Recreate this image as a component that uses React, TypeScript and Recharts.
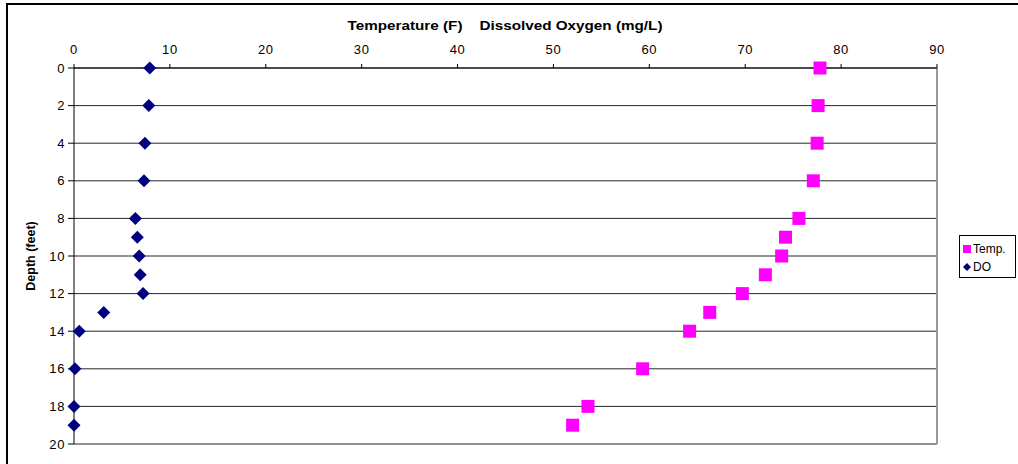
import React from "react";
import { ScatterChart, Scatter, XAxis, YAxis, CartesianGrid, ReferenceLine } from "recharts";

const depths = [0, 2, 4, 6, 8, 9, 10, 11, 12, 13, 14, 16, 18, 19];
const tempValues = [77.8, 77.6, 77.5, 77.1, 75.6, 74.2, 73.8, 72.1, 69.7, 66.3, 64.2, 59.3, 53.6, 52.0];
const doValues = [7.9, 7.8, 7.4, 7.3, 6.4, 6.6, 6.8, 6.9, 7.2, 3.1, 0.55, 0.1, 0.0, 0.0];
const xTicks = [0, 10, 20, 30, 40, 50, 60, 70, 80, 90];
const yTicks = [0, 2, 4, 6, 8, 10, 12, 14, 16, 18, 20];

const tempData = depths.map((d, i) => ({ x: tempValues[i], y: d }));
const doData = depths.map((d, i) => ({ x: doValues[i], y: d }));

const FONT = "'Liberation Sans', Arial, sans-serif";

const SquareShape = (props: any) => {
  const { cx, cy } = props;
  return <rect x={cx - 6.5} y={cy - 6.5} width={13} height={13} fill="#FF00FF" />;
};
const DiamondShape = (props: any) => {
  const { cx, cy } = props;
  const r = 6.5;
  return <polygon points={`${cx},${cy - r} ${cx + r},${cy} ${cx},${cy + r} ${cx - r},${cy}`} fill="#000080" />;
};

const LegendBox = () => (
  <div
    style={{
      position: "absolute",
      left: 959,
      top: 235,
      width: 57,
      height: 43,
      border: "1px solid #000",
      boxSizing: "border-box",
      fontFamily: FONT,
      fontSize: 12,
      color: "#000",
      background: "#fff",
    }}
  >
    <div style={{ position: "absolute", left: 3, top: 6, display: "flex", alignItems: "center" }}>
      <svg width={8} height={8} style={{ marginRight: 2 }}>
        <rect x={0} y={0} width={8} height={8} fill="#FF00FF" />
      </svg>
      <span>Temp.</span>
    </div>
    <div style={{ position: "absolute", left: 3, top: 24, display: "flex", alignItems: "center" }}>
      <svg width={8} height={8} style={{ marginRight: 2 }}>
        <polygon points="4,0 8,4 4,8 0,4" fill="#000080" />
      </svg>
      <span>DO</span>
    </div>
  </div>
);

export default function App() {
  return (
    <div style={{ position: "absolute", left: 0, top: 0, width: 1018, height: 464, background: "#fff", overflow: "hidden" }}>
      <div
        style={{
          position: "absolute",
          left: 6,
          top: 3,
          width: 1020,
          height: 470,
          borderTop: "2px solid #000",
          borderLeft: "2px solid #000",
        }}
      />
      <div style={{ position: "absolute", left: 0, top: 0 }}>
        <ScatterChart
          width={1018}
          height={464}
          margin={{ top: 40, right: 81, bottom: 20, left: 34 }}
          style={{ fontFamily: FONT }}
        >
          <CartesianGrid horizontal={true} vertical={false} stroke="#000" strokeOpacity={0.85} />
          <XAxis
            type="number"
            dataKey="x"
            orientation="top"
            domain={[0, 90]}
            ticks={xTicks}
            interval={0}
            height={28}
            axisLine={{ stroke: "#000" }}
            tickLine={{ stroke: "#000" }}
            tickSize={4}
            tickMargin={10}
            tick={{ fontSize: 13, fill: "#000", fontFamily: FONT, letterSpacing: 0.6 }}
          />
          <YAxis
            type="number"
            dataKey="y"
            reversed
            domain={[0, 20]}
            ticks={yTicks}
            interval={0}
            width={40}
            axisLine={{ stroke: "#000" }}
            tickLine={{ stroke: "#000" }}
            tickSize={6}
            tickMargin={3}
            tick={{ fontSize: 13, fill: "#000", fontFamily: FONT, letterSpacing: 0.6 }}
            label={{
              value: "Depth (feet)",
              angle: -90,
              position: "insideLeft",
              offset: -3,
              style: { fontSize: 12.5, fontWeight: "bold", fill: "#000", fontFamily: FONT, textAnchor: "middle" },
            }}
          />
          <ReferenceLine x={90} stroke="#999" strokeWidth={2} />
          <Scatter name="Temp." data={tempData} shape={SquareShape} isAnimationActive={false} />
          <Scatter name="DO" data={doData} shape={DiamondShape} isAnimationActive={false} />
        </ScatterChart>
      </div>
      <div
        style={{
          position: "absolute",
          left: 505,
          top: 19,
          transform: "translateX(-50%) scaleX(1.22)",
          whiteSpace: "pre",
          fontFamily: FONT,
          fontSize: 12.5,
          fontWeight: "bold",
          color: "#000",
        }}
      >
        {"Temperature (F)    Dissolved Oxygen (mg/L)"}
      </div>
      <LegendBox />
    </div>
  );
}
